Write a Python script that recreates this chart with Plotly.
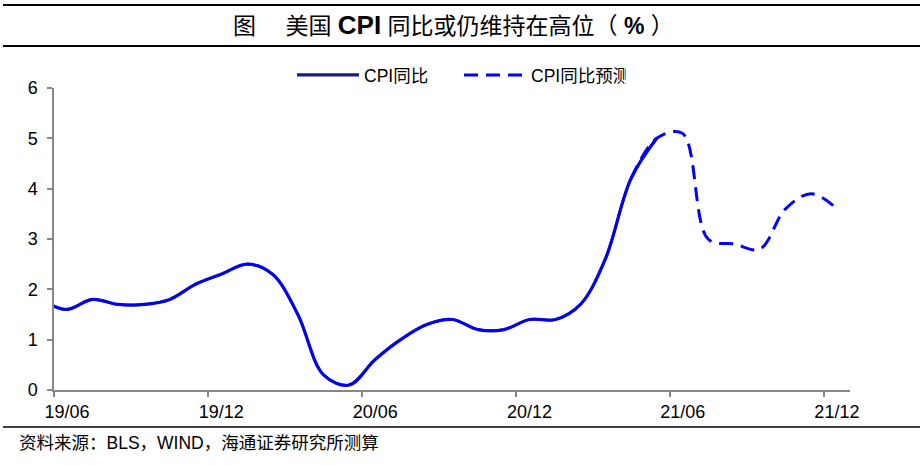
import plotly.graph_objects as go

# Actual CPI YoY (%), monthly
months_actual = ["2019-05", "2019-06", "2019-07", "2019-08", "2019-09", "2019-10", "2019-11", "2019-12",
                 "2020-01", "2020-02", "2020-03", "2020-04", "2020-05", "2020-06", "2020-07", "2020-08",
                 "2020-09", "2020-10", "2020-11", "2020-12", "2021-01", "2021-02", "2021-03", "2021-04",
                 "2021-05"]
cpi_actual = [1.8, 1.6, 1.8, 1.7, 1.7, 1.8, 2.1, 2.3,
              2.5, 2.3, 1.5, 0.3, 0.1, 0.6, 1.0, 1.3,
              1.4, 1.2, 1.2, 1.4, 1.4, 1.7, 2.6, 4.2,
              5.0]

# Forecast CPI YoY (%)
months_fc = ["2021-04", "2021-05", "2021-06", "2021-07", "2021-08", "2021-09", "2021-10", "2021-11", "2021-12"]
cpi_fc = [4.2, 5.0, 5.1, 3.0, 2.9, 2.8, 3.6, 3.9, 3.6]

title_text = ("图　 美国 <span style='font-size:26px'><b>CPI</b></span> "
              "同比或仍维持在高位（ <b>%</b> ）")
source_text = "资料来源：BLS，WIND，海通证券研究所测算"
name_actual = "CPI同比"
name_fc = "CPI同比预测"

W, H = 922, 465
L, R, T, B = 54, 850, 88, 390
pw, ph = R - L, B - T


def px_x(x):
    return (x - L) / pw


def px_y(y):
    return (B - y) / ph


fig = go.Figure()
fig.add_trace(go.Scatter(
    x=months_actual, y=cpi_actual, name=name_actual, mode="lines",
    xperiod="M1", xperiodalignment="middle",
    line=dict(color="#1c1c80", width=3.2, shape="spline", smoothing=1.0),
))
fig.add_trace(go.Scatter(
    x=months_actual, y=cpi_actual, name=name_actual, mode="lines", showlegend=False,
    xperiod="M1", xperiodalignment="middle", hoverinfo="skip",
    line=dict(color="#0000ff", width=2.6, shape="spline", smoothing=1.0),
))
fig.add_trace(go.Scatter(
    x=months_fc, y=cpi_fc, name=name_fc, mode="lines",
    xperiod="M1", xperiodalignment="middle",
    line=dict(color="#0000ff", width=3, shape="spline", smoothing=1.0, dash="14px,8px"),
))

axis_font = dict(family="Arial, Liberation Sans, sans-serif", size=18, color="#000000")

fig.update_layout(
    width=W, height=H,
    margin=dict(l=L, r=W - R, t=T, b=H - B, pad=0),
    paper_bgcolor="white", plot_bgcolor="white",
    font=dict(family="Arial, Liberation Sans, Noto Sans CJK SC, sans-serif", color="#000000"),
    xaxis=dict(
        type="date", range=["2019-06-01", "2022-01-01"],
        tick0="2019-06-01", dtick="M6", tickformat="%y/%m",
        ticks="outside", ticklen=5, tickcolor="#888888", tickwidth=1.5,
        showline=True, linecolor="#888888", linewidth=1.5,
        showgrid=False, zeroline=False, tickfont=axis_font, ticklabelshift=13,
    ),
    yaxis=dict(
        range=[0, 6], dtick=1, tick0=0,
        ticks="outside", ticklen=5, tickcolor="#888888", tickwidth=1.5,
        showline=True, linecolor="#888888", linewidth=1.5,
        showgrid=False, zeroline=False, tickfont=axis_font, ticklabelstandoff=6,
    ),
    legend=dict(
        orientation="h", x=px_x(292), y=px_y(75), xanchor="left", yanchor="middle",
        font=dict(family="Arial, Noto Sans CJK SC, sans-serif", size=17.5, color="#000000"),
        itemwidth=62, entrywidth=90, bgcolor="rgba(0,0,0,0)",
    ),
    showlegend=True,
)

# Title and rules
fig.add_annotation(
    text=title_text, xref="paper", yref="paper", x=px_x(454), y=px_y(25),
    xanchor="center", yanchor="middle", showarrow=False,
    font=dict(family="Arial, Noto Sans CJK SC, sans-serif", size=23, color="#000000"),
)
fig.add_shape(type="line", xref="paper", yref="paper", x0=px_x(3), x1=px_x(920), y0=px_y(5), y1=px_y(5),
              line=dict(color="#000000", width=2))
fig.add_shape(type="line", xref="paper", yref="paper", x0=px_x(3), x1=px_x(920), y0=px_y(46), y1=px_y(46),
              line=dict(color="#000000", width=2))
fig.add_shape(type="line", xref="paper", yref="paper", x0=px_x(3), x1=px_x(920), y0=px_y(427), y1=px_y(427),
              line=dict(color="#000000", width=1.5))
fig.add_annotation(
    text=source_text, xref="paper", yref="paper", x=px_x(17), y=px_y(443),
    xanchor="left", yanchor="middle", showarrow=False,
    font=dict(family="Arial, Noto Sans CJK SC, sans-serif", size=17.5, color="#000000"),
)

fig.write_html("out.html", config={"displayModeBar": False},
               post_script="document.body.style.margin='0';")
